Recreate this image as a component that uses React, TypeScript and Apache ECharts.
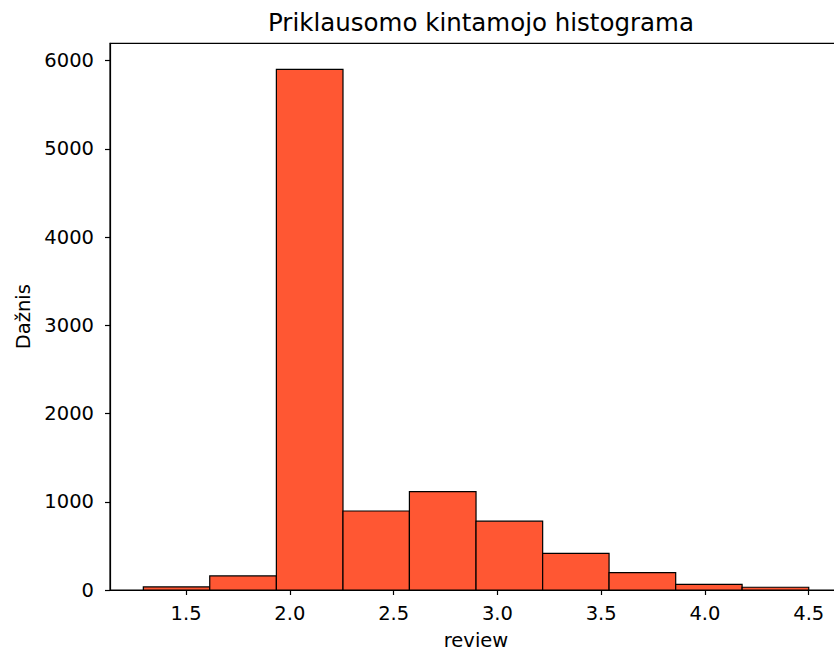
import React, { useEffect, useRef } from "react";
import * as echarts from "echarts";

const title = "Priklausomo kintamojo histograma";
const xName = "review";
const yName = "Dažnis";
const binEdges = [1.294, 1.614, 1.935, 2.256, 2.576, 2.897, 3.218, 3.538, 3.859, 4.179, 4.5];
const counts = [35, 160, 5900, 895, 1115, 780, 415, 196, 64, 31];
const xTicks = [1.5, 2.0, 2.5, 3.0, 3.5, 4.0, 4.5];
const yTicks = [0, 1000, 2000, 3000, 4000, 5000, 6000];

const FONT = "DejaVu Sans";

export default function App() {
  const ref = useRef<HTMLDivElement>(null);
  useEffect(() => {
    document.body.style.margin = "0";
    const chart = echarts.init(ref.current!, undefined, { renderer: "svg" });
    const data = counts.map((c, i) => [binEdges[i], binEdges[i + 1], c]);
    chart.setOption({
      animation: false,
      backgroundColor: "#fff",
      title: {
        text: title,
        left: 476,
        textAlign: "center",
        top: 5,
        textStyle: { fontFamily: FONT, fontSize: 24.5, fontWeight: "normal", color: "#000" },
      },
      grid: {
        left: 110,
        right: 0,
        top: 43.3,
        bottom: 63,
        outerBoundsMode: "none",
        containLabel: false,
        show: true,
        borderColor: "#000",
        borderWidth: 1.2,
        backgroundColor: "transparent",
      },
      xAxis: {
        type: "value",
        min: 1.1334,
        max: 4.6603,
        name: xName,
        nameLocation: "middle",
        nameGap: 40,
        nameTextStyle: { fontFamily: FONT, fontSize: 19.5, color: "#000" },
        axisLine: { show: true, onZero: false, lineStyle: { color: "#000", width: 1.2 } },
        axisTick: { show: true, length: 5, customValues: xTicks, lineStyle: { color: "#000", width: 1.2 } },
        axisLabel: {
          customValues: xTicks,
          margin: 13,
          fontFamily: FONT,
          fontSize: 19.5,
          color: "#000",
          formatter: (v: number) => v.toFixed(1),
        },
        splitLine: { show: false },
      },
      yAxis: {
        type: "value",
        min: 0,
        max: 6195,
        name: yName,
        nameLocation: "middle",
        nameGap: 75,
        nameTextStyle: { fontFamily: FONT, fontSize: 19.5, color: "#000" },
        axisLine: { show: true, lineStyle: { color: "#000", width: 1.2 } },
        axisTick: { show: true, length: 5, customValues: yTicks, lineStyle: { color: "#000", width: 1.2 } },
        axisLabel: {
          customValues: yTicks,
          margin: 16,
          fontFamily: FONT,
          fontSize: 19.5,
          color: "#000",
          formatter: (v: number) => String(v),
        },
        splitLine: { show: false },
      },
      series: [
        {
          type: "custom",
          data,
          encode: { x: [0, 1], y: 2 },
          renderItem: (_params: any, api: any) => {
            const x0 = api.value(0);
            const x1 = api.value(1);
            const c = api.value(2);
            const p0 = api.coord([x0, c]);
            const p1 = api.coord([x1, 0]);
            return {
              type: "rect",
              shape: { x: p0[0], y: p0[1], width: p1[0] - p0[0], height: p1[1] - p0[1] },
              style: { fill: "#FF5733", stroke: "#000", lineWidth: 1.2 },
            };
          },
        },
      ],
    });
    return () => chart.dispose();
  }, []);
  return (
    <div style={{ width: 834, height: 653, overflow: "hidden", position: "relative" }}>
      <div ref={ref} style={{ width: 842, height: 653 }} />
    </div>
  );
}
